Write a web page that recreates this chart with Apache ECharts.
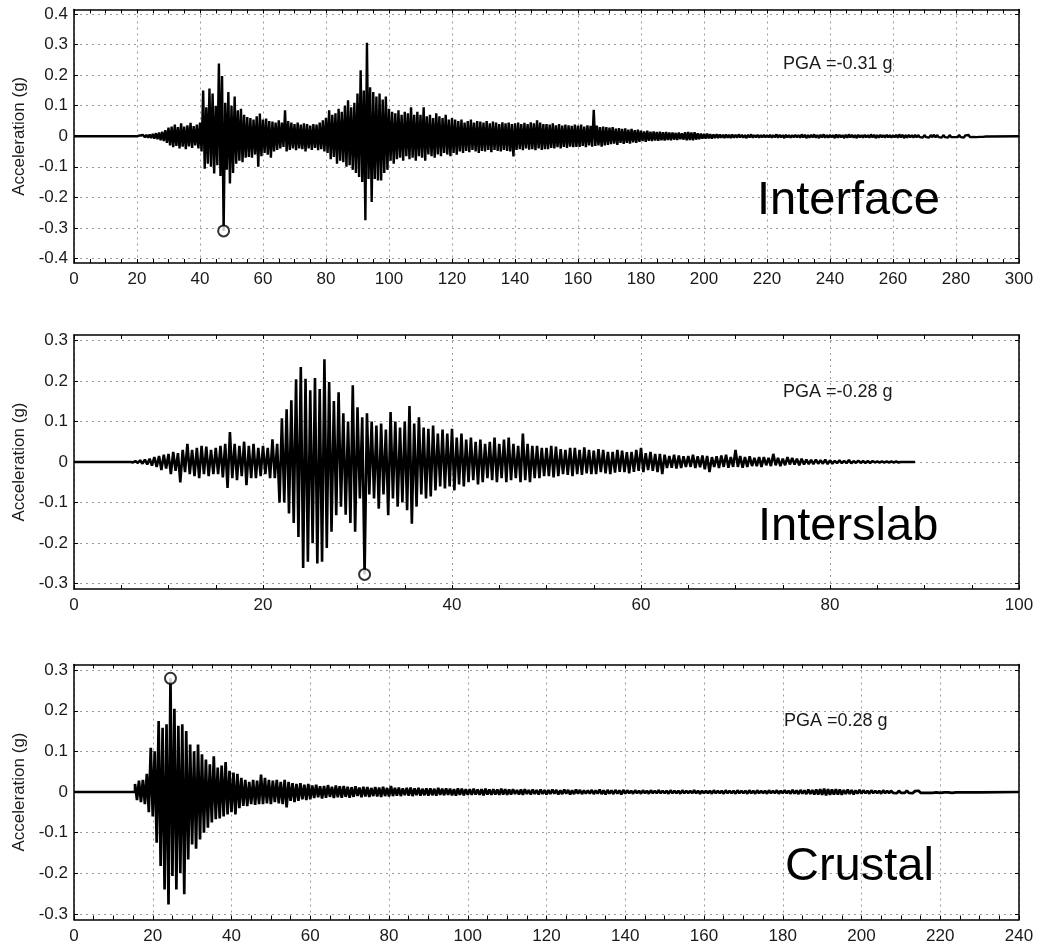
<!DOCTYPE html>
<html>
<head>
    <meta charset="utf-8">
    <!-- ECharts from CDN -->
    <script src="https://cdn.jsdelivr.net/npm/echarts@6.0.0/dist/echarts.min.js"></script>
</head>
<body style="margin:0;background:#fff;">
    <div id="main" style="width:1039px;height:945px;"></div>
</body>
<script type="text/javascript">
    // acceleration records (g), read off the plot as peak up / peak down per time bin
    // Interface: bins of 1 s starting at 20 s (up at t, down at t+0.5)
    var interfaceStart = 20, interfaceStep = 1;
    var interfaceUp = [
        0.002,0.003,0.004,0.005,0.006,0.008,0.010,0.012,0.015,0.020,
        0.028,0.032,0.038,0.030,0.042,0.032,0.036,0.044,0.033,0.038,
        0.045,0.150,0.095,0.156,0.140,0.100,0.238,0.197,0.110,0.145,
        0.100,0.130,0.085,0.090,0.070,0.063,0.060,0.055,0.065,0.074,
        0.055,0.058,0.050,0.048,0.045,0.052,0.045,0.085,0.050,0.045,
        0.040,0.045,0.038,0.042,0.040,0.035,0.040,0.038,0.045,0.052,
        0.060,0.085,0.070,0.075,0.090,0.080,0.100,0.118,0.095,0.110,
        0.140,0.216,0.150,0.306,0.160,0.145,0.130,0.140,0.120,0.130,
        0.090,0.080,0.075,0.085,0.070,0.080,0.075,0.095,0.070,0.080,
        0.070,0.095,0.065,0.070,0.060,0.075,0.065,0.060,0.070,0.055,
        0.060,0.055,0.050,0.055,0.045,0.050,0.055,0.045,0.050,0.048,
        0.045,0.050,0.042,0.048,0.045,0.040,0.046,0.042,0.045,0.040,
        0.042,0.045,0.040,0.044,0.040,0.046,0.042,0.052,0.045,0.040,
        0.040,0.038,0.042,0.036,0.040,0.035,0.038,0.036,0.034,0.038,
        0.035,0.038,0.032,0.036,0.034,0.087,0.035,0.030,0.032,0.030,
        0.028,0.030,0.025,0.027,0.024,0.026,0.022,0.024,0.020,0.022,
        0.018,0.016,0.018,0.015,0.016,0.014,0.015,0.013,0.014,0.012,
        0.012,0.011,0.012,0.010,0.013,0.014,0.012,0.013,0.010,0.009,
        0.008,0.009,0.007,0.006,0.007,0.006,0.005,0.006,0.005,0.006,
        0.005,0.006,0.005,0.004,0.005,0.006,0.004,0.005,0.004,0.005,
        0.004,0.005,0.004,0.006,0.005,0.004,0.005,0.004,0.004,0.005,
        0.004,0.006,0.005,0.004,0.005,0.006,0.004,0.005,0.006,0.004,
        0.005,0.004,0.006,0.005,0.004,0.005,0.006,0.005,0.004,0.005,
        0.004,0.005,0.004,0.006,0.005,0.004,0.005,0.004,0.005,0.004,
        0.004,0.005,0.006,0.005,0.004,0.005,0.004,0.005,0.004,0.003,
        0.004,0.003,0.004,0.005,0.004,0.003,0.004,0.003,0.004,0.003,
        0.003,0.004,0.003,0.003,0.004,0.003,0.002,0.003,0.002,0.002,0.001
    ];
    var interfaceLo = [
        -0.002,-0.003,-0.004,-0.005,-0.006,-0.008,-0.010,-0.013,-0.016,-0.022,
        -0.030,-0.036,-0.032,-0.040,-0.034,-0.042,-0.033,-0.038,-0.030,-0.040,
        -0.050,-0.106,-0.090,-0.100,-0.122,-0.095,-0.130,-0.310,-0.110,-0.155,
        -0.120,-0.090,-0.080,-0.085,-0.070,-0.068,-0.070,-0.060,-0.100,-0.065,
        -0.055,-0.060,-0.070,-0.050,-0.045,-0.040,-0.035,-0.050,-0.045,-0.040,
        -0.046,-0.040,-0.042,-0.050,-0.040,-0.045,-0.038,-0.046,-0.042,-0.050,
        -0.055,-0.075,-0.068,-0.090,-0.080,-0.085,-0.100,-0.095,-0.110,-0.120,
        -0.133,-0.150,-0.275,-0.140,-0.215,-0.140,-0.145,-0.145,-0.120,-0.110,
        -0.080,-0.090,-0.075,-0.070,-0.080,-0.065,-0.075,-0.070,-0.080,-0.065,
        -0.070,-0.080,-0.060,-0.065,-0.070,-0.060,-0.065,-0.055,-0.060,-0.065,
        -0.055,-0.060,-0.050,-0.055,-0.048,-0.052,-0.045,-0.050,-0.055,-0.048,
        -0.050,-0.045,-0.052,-0.045,-0.048,-0.050,-0.045,-0.048,-0.050,-0.066,
        -0.045,-0.042,-0.046,-0.040,-0.044,-0.042,-0.046,-0.040,-0.045,-0.042,
        -0.042,-0.038,-0.040,-0.036,-0.040,-0.035,-0.038,-0.034,-0.036,-0.035,
        -0.035,-0.032,-0.036,-0.030,-0.034,-0.032,-0.030,-0.034,-0.030,-0.028,
        -0.026,-0.024,-0.028,-0.022,-0.025,-0.022,-0.024,-0.020,-0.022,-0.018,
        -0.016,-0.018,-0.015,-0.016,-0.014,-0.015,-0.013,-0.014,-0.012,-0.013,
        -0.011,-0.012,-0.010,-0.011,-0.013,-0.012,-0.013,-0.011,-0.010,-0.008,
        -0.008,-0.007,-0.008,-0.006,-0.006,-0.005,-0.006,-0.005,-0.006,-0.005,
        -0.005,-0.004,-0.005,-0.006,-0.004,-0.005,-0.004,-0.005,-0.004,-0.004,
        -0.004,-0.005,-0.004,-0.005,-0.004,-0.006,-0.004,-0.005,-0.004,-0.004,
        -0.005,-0.004,-0.006,-0.005,-0.004,-0.005,-0.006,-0.004,-0.005,-0.005,
        -0.004,-0.006,-0.005,-0.004,-0.006,-0.005,-0.004,-0.005,-0.006,-0.004,
        -0.005,-0.004,-0.005,-0.004,-0.006,-0.005,-0.004,-0.005,-0.004,-0.005,
        -0.004,-0.005,-0.004,-0.006,-0.005,-0.004,-0.005,-0.004,-0.003,-0.004,
        -0.003,-0.004,-0.003,-0.004,-0.003,-0.004,-0.003,-0.004,-0.003,-0.003,
        -0.003,-0.003,-0.004,-0.003,-0.003,-0.002,-0.003,-0.002,-0.002,-0.001,-0.001
    ];

    // Interslab: bins of 0.5 s starting at 6 s
    var interslabStart = 6, interslabStep = 0.5;
    var interslabUp = [
        0.001,0.002,0.004,0.006,0.008,0.012,0.015,0.018,0.020,0.025,
        0.022,0.030,0.045,0.030,0.035,0.040,0.038,0.030,0.035,0.040,
        0.045,0.074,0.045,0.040,0.050,0.040,0.045,0.035,0.040,0.035,
        0.056,0.045,0.108,0.130,0.152,0.204,0.234,0.205,0.177,0.207,
        0.180,0.253,0.197,0.150,0.172,0.120,0.100,0.189,0.135,0.110,
        0.120,0.100,0.090,0.095,0.080,0.123,0.100,0.085,0.100,0.138,
        0.095,0.110,0.085,0.082,0.090,0.070,0.080,0.070,0.082,0.060,
        0.070,0.055,0.060,0.050,0.055,0.045,0.050,0.060,0.045,0.055,
        0.060,0.045,0.040,0.070,0.045,0.040,0.040,0.035,0.035,0.040,
        0.038,0.032,0.030,0.035,0.035,0.030,0.036,0.030,0.028,0.032,
        0.030,0.025,0.025,0.030,0.028,0.024,0.025,0.030,0.035,0.022,
        0.025,0.020,0.020,0.018,0.015,0.018,0.016,0.014,0.015,0.018,
        0.014,0.016,0.015,0.012,0.014,0.016,0.018,0.012,0.030,0.015,
        0.012,0.014,0.010,0.012,0.012,0.010,0.020,0.010,0.008,0.012,
        0.010,0.008,0.008,0.006,0.005,0.006,0.004,0.006,0.004,0.003,
        0.004,0.003,0.005,0.002,0.003,0.002,0.002,0.002,0.001,0.001,
        0.001,0.001,0.001,0.000,0.000,0.000
    ];
    var interslabLo = [
        -0.001,-0.002,-0.004,-0.006,-0.009,-0.012,-0.020,-0.016,-0.030,-0.022,
        -0.050,-0.025,-0.030,-0.035,-0.040,-0.030,-0.035,-0.030,-0.030,-0.038,
        -0.064,-0.040,-0.045,-0.035,-0.057,-0.040,-0.040,-0.035,-0.030,-0.040,
        -0.040,-0.100,-0.100,-0.127,-0.150,-0.185,-0.261,-0.246,-0.200,-0.250,
        -0.246,-0.212,-0.172,-0.131,-0.110,-0.130,-0.150,-0.172,-0.090,-0.277,
        -0.080,-0.090,-0.115,-0.080,-0.131,-0.090,-0.110,-0.100,-0.119,-0.152,
        -0.110,-0.080,-0.090,-0.085,-0.070,-0.060,-0.065,-0.060,-0.070,-0.055,
        -0.060,-0.050,-0.045,-0.055,-0.050,-0.040,-0.045,-0.050,-0.040,-0.050,
        -0.045,-0.040,-0.050,-0.045,-0.050,-0.040,-0.040,-0.035,-0.035,-0.038,
        -0.035,-0.030,-0.032,-0.035,-0.030,-0.032,-0.028,-0.030,-0.030,-0.025,
        -0.028,-0.030,-0.026,-0.024,-0.025,-0.028,-0.024,-0.022,-0.025,-0.020,
        -0.022,-0.025,-0.030,-0.015,-0.014,-0.016,-0.015,-0.012,-0.012,-0.015,
        -0.013,-0.018,-0.025,-0.012,-0.015,-0.012,-0.014,-0.012,-0.012,-0.014,
        -0.012,-0.010,-0.010,-0.012,-0.008,-0.010,-0.008,-0.010,-0.008,-0.006,
        -0.006,-0.008,-0.006,-0.005,-0.005,-0.004,-0.004,-0.005,-0.004,-0.003,
        -0.003,-0.003,-0.003,-0.002,-0.002,-0.002,-0.002,-0.001,-0.001,-0.001,
        -0.001,-0.001,-0.001,0.000,0.000,0.000
    ];

    // Crustal: bins of 1 s starting at 15.5 s
    var crustalStart = 15.5, crustalStep = 1;
    var crustalUp = [
        0.020,0.028,0.030,0.045,0.109,0.100,0.175,0.158,0.167,0.280,
        0.205,0.163,0.167,0.150,0.117,0.100,0.117,0.093,0.080,0.068,
        0.088,0.060,0.065,0.074,0.052,0.048,0.045,0.035,0.030,0.025,
        0.030,0.028,0.043,0.035,0.030,0.028,0.030,0.025,0.030,0.025,
        0.022,0.020,0.022,0.018,0.020,0.016,0.018,0.014,0.015,0.017,
        0.013,0.016,0.014,0.015,0.013,0.012,0.014,0.011,0.013,0.012,
        0.010,0.012,0.011,0.013,0.010,0.015,0.010,0.011,0.009,0.010,
        0.011,0.009,0.010,0.008,0.009,0.009,0.008,0.010,0.008,0.009,
        0.008,0.007,0.009,0.008,0.007,0.007,0.008,0.006,0.007,0.008,
        0.006,0.007,0.006,0.008,0.007,0.006,0.007,0.005,0.006,0.007,
        0.005,0.006,0.005,0.006,0.005,0.005,0.006,0.005,0.004,0.006,
        0.005,0.004,0.006,0.005,0.004,0.004,0.005,0.004,0.006,0.004,
        0.005,0.004,0.005,0.004,0.005,0.004,0.003,0.004,0.003,0.004,
        0.003,0.004,0.003,0.004,0.003,0.003,0.004,0.003,0.003,0.004,
        0.003,0.003,0.004,0.003,0.003,0.003,0.003,0.004,0.003,0.003,
        0.004,0.003,0.003,0.004,0.003,0.003,0.004,0.003,0.004,0.003,
        0.003,0.004,0.003,0.004,0.003,0.004,0.003,0.005,0.004,0.005,
        0.004,0.006,0.005,0.006,0.007,0.008,0.007,0.006,0.007,0.006,
        0.005,0.006,0.005,0.004,0.005,0.004,0.003,0.004,0.003,0.003,
        0.004,0.003,0.003,0.002,0.003,0.002,0.003,0.002,0.002,0.003,
        0.002,0.002,0.002,0.002,0.001,0.001,0.002,0.001,0.001,0.002,
        0.001,0.001,0.001,0.001,0.001
    ];
    var crustalLo = [
        -0.020,-0.025,-0.030,-0.050,-0.060,-0.125,-0.182,-0.240,-0.277,-0.207,
        -0.240,-0.200,-0.252,-0.166,-0.129,-0.140,-0.117,-0.100,-0.088,-0.075,
        -0.067,-0.065,-0.060,-0.055,-0.050,-0.055,-0.040,-0.034,-0.035,-0.030,
        -0.032,-0.030,-0.030,-0.028,-0.030,-0.025,-0.028,-0.030,-0.038,-0.022,
        -0.025,-0.022,-0.018,-0.020,-0.018,-0.015,-0.013,-0.016,-0.014,-0.012,
        -0.015,-0.013,-0.014,-0.012,-0.014,-0.012,-0.010,-0.013,-0.011,-0.012,
        -0.010,-0.011,-0.012,-0.010,-0.011,-0.010,-0.009,-0.010,-0.008,-0.009,
        -0.010,-0.008,-0.009,-0.008,-0.009,-0.008,-0.009,-0.007,-0.008,-0.007,
        -0.008,-0.009,-0.007,-0.008,-0.007,-0.007,-0.006,-0.007,-0.008,-0.006,
        -0.007,-0.006,-0.007,-0.006,-0.007,-0.006,-0.005,-0.006,-0.007,-0.005,
        -0.006,-0.005,-0.006,-0.005,-0.006,-0.005,-0.004,-0.006,-0.005,-0.004,
        -0.006,-0.005,-0.004,-0.005,-0.004,-0.004,-0.005,-0.004,-0.005,-0.006,
        -0.004,-0.005,-0.004,-0.006,-0.004,-0.003,-0.004,-0.003,-0.004,-0.003,
        -0.004,-0.003,-0.003,-0.003,-0.003,-0.004,-0.003,-0.003,-0.004,-0.003,
        -0.003,-0.003,-0.003,-0.004,-0.003,-0.003,-0.004,-0.003,-0.003,-0.004,
        -0.003,-0.003,-0.004,-0.003,-0.003,-0.004,-0.003,-0.004,-0.003,-0.003,
        -0.004,-0.003,-0.003,-0.004,-0.003,-0.003,-0.004,-0.004,-0.005,-0.004,
        -0.005,-0.005,-0.006,-0.006,-0.007,-0.008,-0.007,-0.006,-0.006,-0.007,
        -0.005,-0.005,-0.006,-0.004,-0.004,-0.003,-0.004,-0.003,-0.003,-0.004,
        -0.003,-0.003,-0.002,-0.003,-0.002,-0.002,-0.002,-0.003,-0.002,-0.002,
        -0.002,-0.002,-0.002,-0.001,-0.002,-0.001,-0.001,-0.002,-0.001,-0.001,
        -0.001,-0.001,-0.001,-0.001,-0.001
    ];

    // peak ground acceleration points [time, value]
    var interfacePeak = [47.5, -0.31];
    var interslabPeak = [30.75, -0.277];
    var crustalPeak = [24.5, 0.28];

    // axis ticks
    var yTicksInterface = [-0.4, -0.3, -0.2, -0.1, 0, 0.1, 0.2, 0.3, 0.4];
    var yTicksOther = [-0.3, -0.2, -0.1, 0, 0.1, 0.2, 0.3];
    var xMaxes = [300, 100, 240];

    var names = ['Interface', 'Interslab', 'Crustal'];
    var pgaTexts = ['PGA =-0.31 g', 'PGA =-0.28 g', 'PGA =0.28 g'];

    var FONT = "'Liberation Sans', Arial, Helvetica, sans-serif";

    // up/down zigzag through each bin, flat zero before and (optionally) after
    function trace(t0, step, up, lo, tEnd) {
        var pts = [[0, 0], [t0, 0]];
        for (var i = 0; i < up.length; i++) {
            pts.push([t0 + i * step, up[i]]);
            pts.push([t0 + i * step + step / 2, lo[i]]);
        }
        pts.push([t0 + up.length * step, 0]);
        if (tEnd != null) pts.push([tEnd, 0]);
        return pts;
    }

    var panels = [
        {data: trace(interfaceStart, interfaceStep, interfaceUp, interfaceLo, 300), peak: interfacePeak,
         yLim: 0.415, yTicks: yTicksInterface, top: 9.5, height: 253.5, lineW: 2.4,
         pgaPos: [783, 64], namePos: [757, 201]},
        {data: trace(interslabStart, interslabStep, interslabUp, interslabLo, null), peak: interslabPeak,
         yLim: 0.313, yTicks: yTicksOther, top: 335, height: 254, lineW: 2.6,
         pgaPos: [783, 392], namePos: [758, 527]},
        {data: trace(crustalStart, crustalStep, crustalUp, crustalLo, 240), peak: crustalPeak,
         yLim: 0.314, yTicks: yTicksOther, top: 664.5, height: 255, lineW: 2.7,
         pgaPos: [784, 721], namePos: [785, 867]}
    ];

    var myChart = echarts.init(document.getElementById('main'));

    var grids = [], xAxes = [], yAxes = [], series = [], graphics = [];
    var frame = {show: true, onZero: false, lineStyle: {color: '#000', width: 1.5}};
    var tick = {show: true, inside: true, length: 4, lineStyle: {color: '#000', width: 1}};
    var dotted = {show: true, lineStyle: {color: '#9a9a9a', width: 1, type: [2, 4]}};

    panels.forEach(function (p, i) {
        grids.push({left: 74, top: p.top, width: 945, height: p.height, containLabel: false});

        var xBase = {type: 'value', gridIndex: i, min: 0, max: xMaxes[i], interval: 20,
            axisLine: frame, axisTick: tick,
            minorTick: {show: true, splitNumber: 4, length: 4, lineStyle: {color: '#000', width: 1}}};
        xAxes.push(echarts.util.merge({
            position: 'bottom',
            axisLabel: {color: '#1a1a1a', fontSize: 17, fontFamily: FONT, margin: 8},
            splitLine: dotted
        }, xBase, true));
        xAxes.push(echarts.util.merge({
            position: 'top', axisLabel: {show: false}, splitLine: {show: false}
        }, xBase, true));

        var yTick = echarts.util.merge({customValues: p.yTicks}, tick, true);
        var yBase = {type: 'value', gridIndex: i, min: -p.yLim, max: p.yLim,
            axisLine: frame, axisTick: yTick};
        yAxes.push(echarts.util.merge({
            position: 'left',
            axisLabel: {customValues: p.yTicks, color: '#1a1a1a', fontSize: 17, fontFamily: FONT, margin: 6,
                formatter: function (v) { return v === 0 ? '0' : String(+v.toFixed(1)); }},
            splitLine: dotted,
            name: 'Acceleration (g)', nameLocation: 'middle', nameGap: 46,
            nameTextStyle: {color: '#1a1a1a', fontSize: 17, fontFamily: FONT}
        }, yBase, true));
        yAxes.push(echarts.util.merge({
            position: 'right', axisLabel: {show: false}, splitLine: {show: false}
        }, yBase, true));

        series.push({
            type: 'line', xAxisIndex: 2 * i, yAxisIndex: 2 * i,
            data: p.data, symbol: 'none', showSymbol: false,
            lineStyle: {color: '#000', width: p.lineW, join: 'bevel'}, z: 3
        });
        series.push({
            type: 'scatter', xAxisIndex: 2 * i, yAxisIndex: 2 * i,
            data: [p.peak], symbol: 'emptyCircle', symbolSize: 11,
            itemStyle: {color: '#000', borderWidth: 1.5}, z: 4
        });

        graphics.push({type: 'text', x: p.pgaPos[0], y: p.pgaPos[1], z: 10,
            style: {text: pgaTexts[i], fill: '#1a1a1a', fontSize: 18, fontFamily: FONT,
                align: 'left', verticalAlign: 'middle'}});
        graphics.push({type: 'text', x: p.namePos[0], y: p.namePos[1], z: 10,
            style: {text: names[i], fill: '#000', fontSize: 47, fontFamily: FONT,
                align: 'left', verticalAlign: 'middle'}});
    });

    myChart.setOption({
        backgroundColor: '#fff',
        animation: false,
        grid: grids,
        xAxis: xAxes,
        yAxis: yAxes,
        series: series,
        graphic: graphics
    });
</script>
</html>
